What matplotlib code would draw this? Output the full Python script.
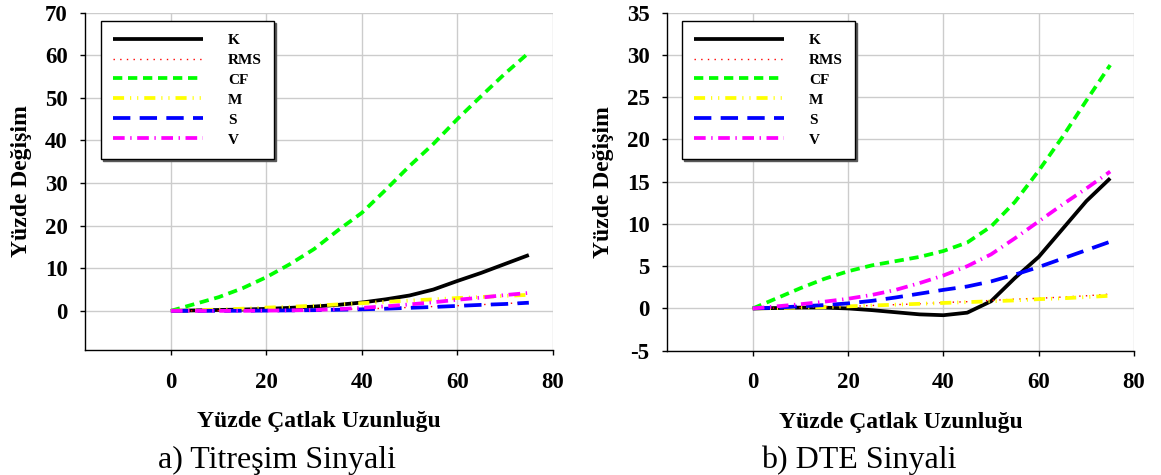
#!/usr/bin/env python3
import matplotlib
matplotlib.use("Agg")
import matplotlib.pyplot as plt

plt.rcParams['font.family'] = ['Liberation Serif', 'DejaVu Serif']
plt.rcParams['font.weight'] = 'bold'
plt.rcParams['axes.unicode_minus'] = False
plt.rcParams['lines.scale_dashes'] = False

# crack length (%)
crack = [0, 5, 10, 15, 20, 25, 30, 35, 40, 45, 50, 55, 60, 65, 70, 75]

# a) vibration signal
K_a = [0, 0.1, 0.2, 0.3, 0.45, 0.7, 1.0, 1.4, 1.95, 2.7, 3.6, 5.0, 7.0, 8.9, 11.0, 13.1]
RMS_a = [0, 0, 0.02, 0.05, 0.1, 0.17, 0.25, 0.35, 0.45, 0.6, 0.8, 1.0, 1.2, 1.45, 1.7, 2.0]
CF_a = [0, 1.6, 3.2, 5.3, 7.9, 11.0, 14.5, 18.9, 23.0, 28.4, 34.0, 39.2, 45.0, 50.4, 55.7, 60.6]
M_a = [0, 0.15, 0.3, 0.5, 0.75, 0.95, 1.2, 1.5, 1.8, 2.1, 2.4, 2.7, 3.0, 3.25, 3.5, 3.75]
S_a = [0, 0, 0, 0.02, 0.05, 0.1, 0.15, 0.25, 0.35, 0.5, 0.7, 0.9, 1.15, 1.4, 1.6, 1.9]
V_a = [0, 0, 0, 0, 0.05, 0.1, 0.2, 0.4, 0.7, 1.05, 1.5, 2.0, 2.6, 3.1, 3.7, 4.2]

# b) DTE signal
K_b = [0, 0.05, 0.1, 0.1, 0.0, -0.2, -0.45, -0.7, -0.8, -0.5, 0.85, 3.6, 6.1, 9.4, 12.7, 15.4]
RMS_b = [0, 0.05, 0.1, 0.2, 0.25, 0.35, 0.45, 0.55, 0.7, 0.8, 0.95, 1.1, 1.2, 1.35, 1.5, 1.7]
CF_b = [0, 1.2, 2.4, 3.5, 4.4, 5.1, 5.6, 6.1, 6.8, 7.8, 9.7, 12.6, 16.3, 20.3, 24.6, 28.8]
M_b = [0, 0.05, 0.1, 0.15, 0.25, 0.35, 0.45, 0.55, 0.65, 0.75, 0.85, 0.95, 1.1, 1.2, 1.35, 1.5]
S_b = [0, 0.1, 0.25, 0.4, 0.6, 0.9, 1.3, 1.75, 2.2, 2.6, 3.2, 4.0, 4.9, 5.9, 6.9, 7.9]
V_b = [0, 0.25, 0.5, 0.8, 1.15, 1.6, 2.2, 3.0, 3.9, 5.0, 6.4, 8.3, 10.3, 12.3, 14.2, 16.2]

names = ["K", "RMS", "CF", "M", "S", "V"]
colors = ["black", "red", "#00ff00", "#ffff00", "#0000ff", "#ff00ff"]
widths = [2.7, 1.0, 2.7, 2.7, 2.7, 2.7]
dashes = [None, (1.0, 3.8), (6.7, 4.1), (8, 4.3, 0.8, 4.3, 0.8, 4.3), (12.5, 6.7), (8.4, 4.0, 1.0, 4.0)]

W, H = 1161, 475


def draw_panel(fig, rect, series, ylim, yticks, legend_xy, caption, caption_x):
    ax = fig.add_axes(rect)
    for name, vals, c, lw, d in zip(names, series, colors, widths, dashes):
        if d is None:
            ax.plot(crack, vals, color=c, lw=lw, label=name, solid_capstyle='butt')
        else:
            ax.plot(crack, vals, color=c, lw=lw, label=name, dashes=d)

    ax.set_xlim(-18, 80)
    ax.set_ylim(*ylim)
    ax.set_xticks([0, 20, 40, 60, 80])
    ax.set_yticks(yticks)
    ax.grid(True, color='#cccccc', lw=1.0)
    ax.set_axisbelow(True)
    for s in ['top', 'right']:
        ax.spines[s].set_visible(False)
    for s in ['left', 'bottom']:
        ax.spines[s].set_linewidth(1.0)
    ax.tick_params(direction='out', length=3.6, width=1.0, labelsize=16.5)
    ax.tick_params(axis='x', pad=12)
    ax.tick_params(axis='y', pad=8.9)

    ax.set_xlabel("Yüzde Çatlak Uzunluğu", fontsize=17, fontweight='bold')
    ax.xaxis.set_label_coords(0.5, -0.229)
    ax.xaxis.label.set_va('baseline')
    ax.set_ylabel("Yüzde Değişim", fontsize=17, fontweight='bold')
    ax.yaxis.set_label_coords(-0.124, 0.5)
    ax.yaxis.label.set_va('baseline')

    leg = ax.legend(loc='upper left', bbox_to_anchor=legend_xy, bbox_transform=fig.transFigure,
                    borderaxespad=0, prop={'size': 11, 'weight': 'bold'}, handlelength=5.9,
                    handletextpad=1.6, borderpad=0.8, labelspacing=0.41, fancybox=False,
                    edgecolor='black', framealpha=1,
                    shadow={'ox': 1.5, 'oy': -1.5, 'color': '0.35', 'alpha': 1})
    leg.get_frame().set_linewidth(1.0)

    fig.text(caption_x / W, (H - 468.3) / H, caption, fontsize=23, fontweight='normal',
             ha='center', va='baseline')
    return ax


def create_chart():
    fig = plt.figure(figsize=(W / 100, H / 100), dpi=100)
    draw_panel(fig, [85 / W, 125 / H, 467.7 / W, 337.3 / H],
               [K_a, RMS_a, CF_a, M_a, S_a, V_a], (-9.2, 70), range(0, 71, 10),
               (101 / W, 1 - 21 / H), "a) Titreşim Sinyali", 277.5)
    draw_panel(fig, [667 / W, 124.3 / H, 467 / W, 338 / H],
               [K_b, RMS_b, CF_b, M_b, S_b, V_b], (-5, 35), range(-5, 36, 5),
               (682 / W, 1 - 21 / H), "b) DTE Sinyali", 859)
    fig.savefig("out.png", dpi=100)


if __name__ == "__main__":
    create_chart()
